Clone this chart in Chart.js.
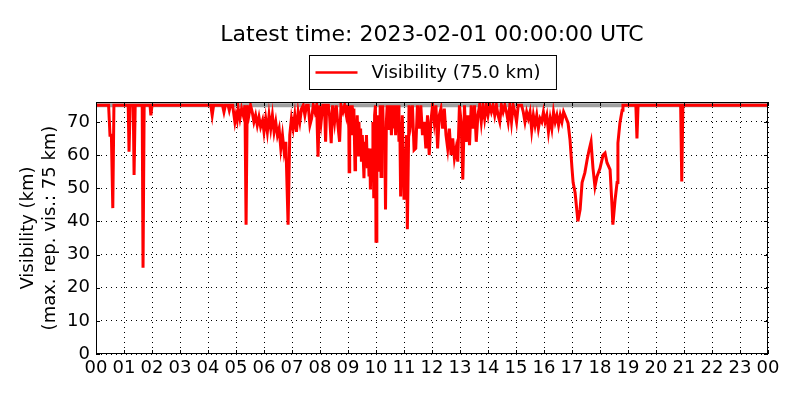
<!DOCTYPE html>
<html>
<head>
<meta charset="utf-8">
<script src="https://cdn.jsdelivr.net/npm/chart.js@4.4.1/dist/chart.umd.min.js"></script>
<style>
  html, body { margin: 0; padding: 0; background: #fff; }
  #wrap { width: 800px; height: 400px; }
</style>
</head>
<body>
<div id="wrap"><canvas id="c" width="800" height="400"></canvas></div>
<script>
const titleText = "Latest time: 2023-02-01 00:00:00 UTC";
const seriesLabel = "Visibility (75.0 km)";
const yAxisTitle = ["Visibility (km)", "(max. rep. vis.: 75 km)"];
const maxReportedVis = 75;

// Hours since 00 UTC
const hours = [
  0.00, 0.45, 0.50, 0.55, 0.60, 0.64, 1.15, 1.18, 1.22, 1.33, 1.36, 1.40, 1.65, 1.68, 1.72, 1.93, 1.96, 2.00,
  4.10, 4.15, 4.20, 4.52, 4.57, 4.62, 4.72, 4.76, 4.80, 4.88, 4.96,
  5.00, 5.04, 5.08, 5.14, 5.20, 5.26, 5.32, 5.36, 5.40, 5.46, 5.52, 5.58, 5.64, 5.70, 5.76, 5.82, 5.88, 5.95,
  6.00, 6.06, 6.12, 6.18, 6.24, 6.30, 6.36, 6.42, 6.48, 6.54, 6.60, 6.66, 6.72, 6.78, 6.86, 6.92, 6.98,
  7.04, 7.10, 7.16, 7.22, 7.28, 7.34, 7.40, 7.46, 7.52, 7.58, 7.64, 7.70, 7.76, 7.82, 7.88, 7.93, 7.98,
  8.04, 8.10, 8.16, 8.20, 8.24, 8.30, 8.34, 8.40, 8.45, 8.52, 8.58, 8.64, 8.70, 8.75, 8.82, 8.88, 8.94, 8.99,
  9.03, 9.04, 9.06, 9.09, 9.12, 9.15, 9.18, 9.21, 9.25, 9.27, 9.30, 9.33, 9.36, 9.39, 9.42, 9.45, 9.48, 9.51,
  9.54, 9.57, 9.60, 9.63, 9.66, 9.69, 9.72, 9.75, 9.78, 9.80, 9.83, 9.86, 9.89, 9.92, 9.95, 9.98,
  10.00, 10.03, 10.06, 10.09, 10.12, 10.15, 10.18, 10.21, 10.24, 10.28, 10.31, 10.34, 10.37, 10.40, 10.43, 10.46, 10.49,
  10.52, 10.55, 10.58, 10.61, 10.64, 10.67, 10.70, 10.73, 10.76, 10.79, 10.82, 10.85, 10.88, 10.91, 10.94, 10.97,
  11.00, 11.03, 11.06, 11.09, 11.12, 11.18, 11.24, 11.30, 11.36, 11.42, 11.48, 11.54, 11.60, 11.66, 11.72, 11.78, 11.84, 11.90, 11.96,
  12.02, 12.08, 12.14, 12.20, 12.26, 12.32, 12.38, 12.44, 12.50, 12.56, 12.62, 12.68, 12.74, 12.80, 12.86, 12.92, 12.98,
  13.04, 13.10, 13.16, 13.22, 13.28, 13.34, 13.40, 13.46, 13.52, 13.58, 13.64, 13.70, 13.76, 13.82, 13.88, 13.94,
  14.00, 14.06, 14.12, 14.18, 14.24, 14.30, 14.36, 14.42, 14.48, 14.54, 14.60, 14.66, 14.72, 14.78, 14.84, 14.90, 14.96,
  15.02, 15.08, 15.14, 15.20, 15.26, 15.32, 15.38, 15.44, 15.50, 15.56, 15.62, 15.68, 15.74, 15.80, 15.86, 15.92, 15.98,
  16.04, 16.10, 16.16, 16.22, 16.28, 16.34, 16.40, 16.46, 16.52, 16.58, 16.64, 16.70, 16.75, 16.86, 16.93,
  17.00, 17.04, 17.11, 17.18, 17.21, 17.29, 17.36, 17.46, 17.54, 17.61, 17.68, 17.75, 17.82, 17.89,
  18.00, 18.11, 18.18, 18.25, 18.36, 18.43, 18.46, 18.54, 18.61, 18.64, 18.71, 18.79, 18.82,
  19.28, 19.32, 19.36, 20.88, 20.92, 20.96, 24.00
];

// Visibility (km)
const visibility = [
  75, 75, 66, 66, 44, 75, 75, 61, 75, 75, 54, 75, 75, 26, 75, 75, 72, 75,
  75, 72, 75, 75, 73, 75, 75, 73.5, 75, 75, 70,
  72, 70.5, 74, 71, 74, 72, 75, 39, 75, 72, 75, 73, 70, 72, 69, 71.5, 68.5, 70.5,
  67, 71, 67, 72, 68, 72, 67, 70, 66, 68, 62, 66, 61, 64, 39, 66, 71,
  68, 72, 67, 73, 70, 74, 75, 72, 75, 75, 69, 71, 75, 73, 75, 59.5, 75,
  70, 75, 75, 64, 75, 75, 72, 63.6, 75, 70, 75, 69, 64, 75, 73, 75, 72, 75,
  68, 55, 72, 75, 66, 75, 70, 74, 55.6, 70, 64, 72, 60, 70, 62, 68, 58, 66,
  60, 53, 64, 58, 66, 56, 62, 54, 60, 49.6, 62, 55, 70, 47, 72, 75,
  34, 64, 58, 72, 55, 75, 53.5, 70, 75, 62, 68, 43.6, 70, 75, 68, 75, 70,
  75, 66, 72, 75, 68, 75, 66, 75, 70, 75, 64, 70, 47.5, 66, 72, 60,
  47, 62, 55, 66, 37.6, 75, 70, 75, 61.5, 62, 75, 68, 75, 66, 70, 62, 72, 60, 70,
  75, 70, 75, 62, 72, 74, 68, 74, 66, 62, 68, 60, 65, 59, 62, 58, 75,
  70, 52.6, 75, 64, 72, 63, 75, 68, 75, 64, 72, 75, 70, 75, 71, 75,
  72, 75, 73, 75, 72, 75, 72, 70, 75, 73, 75, 73, 70, 75, 70, 75, 73,
  70, 75, 75, 75, 73, 70, 73, 71, 73, 67.5, 72, 69, 72, 68, 71, 70, 73,
  70, 72, 67, 71, 68, 73, 70, 72, 69, 72, 70, 73, 72, 69.6, 64.5,
  56, 51.7, 48.7, 42.7, 40, 43.6, 51.7, 54.7, 58.6, 61.5, 64, 56, 50.5, 53.5,
  56, 60, 60.6, 57.7, 55.6, 44.5, 39, 46.6, 51.7, 63.6, 69.6, 73.5, 75,
  75, 65, 75, 75, 52, 75, 75
];

const xTicks = [0, 24, 1];   // min, max, step (hours)
const yTicks = [0, 76, 10];  // min, max, step (km)

const FONT = "'DejaVu Sans', sans-serif";

const points = hours.map((h, i) => ({ x: h, y: visibility[i] }));
const maxLine = [{ x: xTicks[0], y: maxReportedVis }, { x: xTicks[1], y: maxReportedVis }];

const decorPlugin = {
  id: 'decor',
  afterDraw(chart) {
    const ctx = chart.ctx;
    const a = chart.chartArea;
    const xs = chart.scales.x, ys = chart.scales.y;
    ctx.save();
    // frame
    ctx.strokeStyle = '#000';
    ctx.lineWidth = 1;
    ctx.strokeRect(Math.round(a.left) + 0.5, Math.round(a.top) + 0.5,
                   Math.round(a.right - a.left) - 1, Math.round(a.bottom - a.top) - 1);
    // inward ticks
    const L = 4;
    ctx.beginPath();
    xs.ticks.forEach(t => {
      const px = Math.round(xs.getPixelForValue(t.value)) + 0.5;
      ctx.moveTo(px, a.bottom); ctx.lineTo(px, a.bottom - L);
      ctx.moveTo(px, a.top); ctx.lineTo(px, a.top + L);
    });
    ys.ticks.forEach(t => {
      const py = Math.round(ys.getPixelForValue(t.value)) + 0.5;
      ctx.moveTo(a.left, py); ctx.lineTo(a.left + L, py);
      ctx.moveTo(a.right, py); ctx.lineTo(a.right - L, py);
    });
    ctx.stroke();

    // title
    const cx = (a.left + a.right) / 2;
    ctx.fillStyle = '#000';
    ctx.textAlign = 'center';
    ctx.textBaseline = 'middle';
    ctx.font = "22px " + FONT;
    ctx.fillText(titleText, cx, 35);

    // legend
    ctx.font = "18px " + FONT;
    const tw = ctx.measureText(seriesLabel).width;
    const boxW = 12 + 42 + 14 + tw + 10;
    const bx = Math.round(cx - boxW / 2) + 0.5, by = 55.5, bh = 34;
    ctx.fillStyle = '#fff';
    ctx.fillRect(bx, by, boxW, bh);
    ctx.strokeStyle = '#000';
    ctx.lineWidth = 1;
    ctx.strokeRect(bx, by, boxW, bh);
    ctx.strokeStyle = '#ff0000';
    ctx.lineWidth = 2.5;
    ctx.beginPath();
    ctx.moveTo(bx + 6, by + bh / 2);
    ctx.lineTo(bx + 48, by + bh / 2);
    ctx.stroke();
    ctx.fillStyle = '#000';
    ctx.textAlign = 'left';
    ctx.fillText(seriesLabel, bx + 62, by + bh / 2 + 1);
    ctx.restore();
  }
};

new Chart(document.getElementById('c'), {
  type: 'line',
  data: {
    datasets: [
      {
        label: seriesLabel,
        data: points,
        borderColor: '#ff0000',
        backgroundColor: '#ff0000',
        borderWidth: 3,
        pointRadius: 0,
        tension: 0,
        order: 0
      },
      {
        label: 'max',
        data: maxLine,
        borderColor: '#a0a0a0',
        borderWidth: 4,
        pointRadius: 0,
        order: 1
      }
    ]
  },
  options: {
    responsive: false,
    animation: false,
    devicePixelRatio: 1,
    layout: { padding: { top: 102, right: 32, left: 18, bottom: 0 } },
    plugins: {
      legend: { display: false },
      title: { display: false },
      tooltip: { enabled: false }
    },
    scales: {
      x: {
        type: 'linear',
        min: xTicks[0], max: xTicks[1],
        border: { display: false, dash: [1, 4] },
        grid: { color: '#000', lineWidth: 1, drawTicks: false },
        ticks: {
          stepSize: xTicks[2],
          autoSkip: false,
          maxRotation: 0,
          padding: 4,
          color: '#000',
          font: { family: FONT, size: 18 },
          callback: v => String(v % 24).padStart(2, '0')
        },
        afterFit: s => { s.height = 46; }
      },
      y: {
        type: 'linear',
        min: yTicks[0], max: yTicks[1],
        border: { display: false, dash: [1, 4] },
        grid: { color: '#000', lineWidth: 1, drawTicks: false },
        ticks: {
          stepSize: yTicks[2],
          includeBounds: false,
          padding: 6,
          color: '#000',
          font: { family: FONT, size: 18 },
        },
        title: {
          display: true,
          text: yAxisTitle,
          color: '#000',
          font: { family: FONT, size: 18, lineHeight: 1.2 },
          padding: { top: 0, bottom: 0 }
        },
        afterFit: s => { s.width = 78; }
      }
    }
  },
  plugins: [decorPlugin]
});
</script>
</body>
</html>
